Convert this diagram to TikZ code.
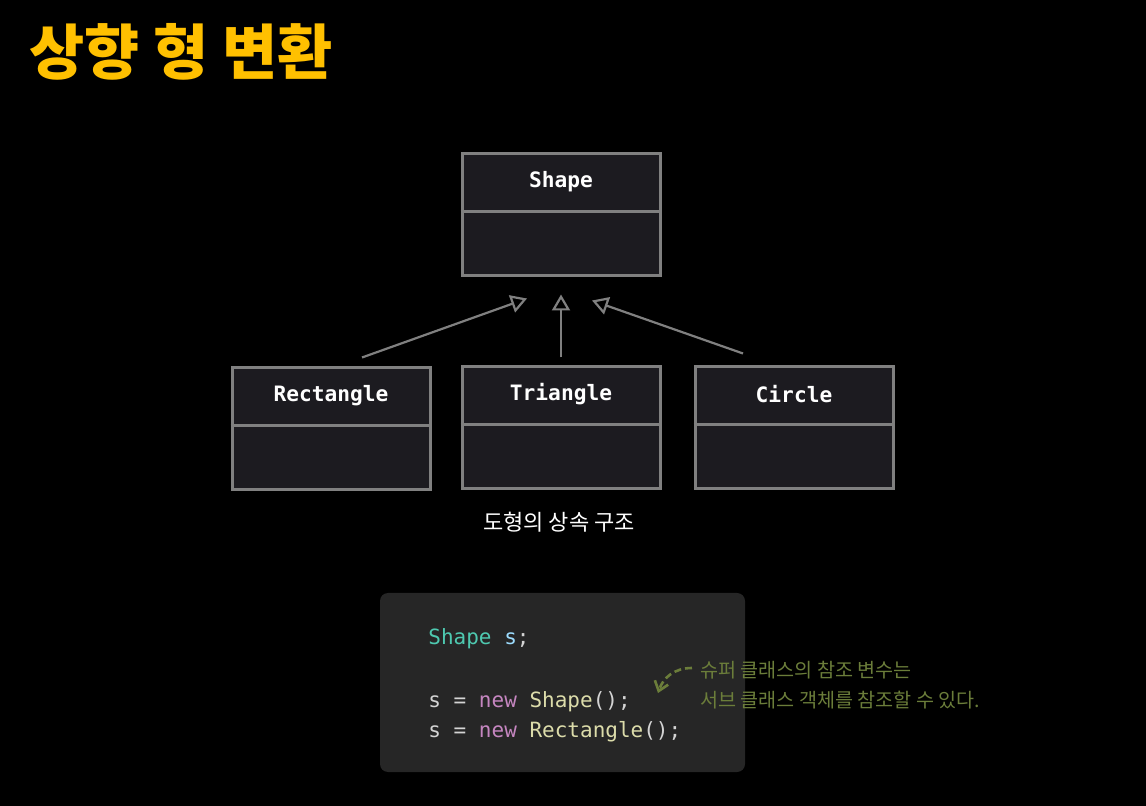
\documentclass[tikz,border=0pt]{standalone}
\usepackage{fontspec}
\setmonofont{DejaVu Sans Mono}
\newfontfamily\krfont{Noto Sans CJK KR}
\definecolor{ucTitle}{HTML}{FFC000}
\definecolor{ucBox}{HTML}{1C1B20}
\definecolor{ucEdge}{HTML}{808080}
\definecolor{ucCode}{HTML}{262626}
\definecolor{ucType}{HTML}{4EC9B0}
\definecolor{ucVar}{HTML}{9CDCFE}
\definecolor{ucKey}{HTML}{C586C0}
\definecolor{ucFunc}{HTML}{DCDCAA}
\definecolor{ucText}{HTML}{D4D4D4}
\definecolor{ucNote}{HTML}{6B7D3A}
\usetikzlibrary{calc,positioning,arrows.meta}

\begin{document}
\begin{tikzpicture}[x=0.5pt,y=-0.5pt,
    umlbox/.style={draw=ucEdge, line width=1.5pt, fill=ucBox,
      minimum width=99pt, minimum height=61pt, inner sep=0pt},
    umlname/.style={text=white, font=\ttfamily\bfseries\fontsize{10.6}{12}\selectfont},
    inherit/.style={draw=ucEdge, line width=1.1pt,
      -{Triangle[open, length=8pt, width=9pt]}},
    codeline/.style={anchor=base west, inner sep=0pt,
      font=\ttfamily\fontsize{10.5}{12}\selectfont, text=ucText}]
  \fill[black] (0,0) rectangle (1146,806);
  \useasboundingbox (0,0) rectangle (1146,806);

  % title
  \node[anchor=base west, inner sep=0pt, text=ucTitle,
    font=\krfont\bfseries\fontsize{30}{33}\selectfont] (title) at (29,75) {상향 형 변환};

  % class boxes
  \node[umlbox] (shape) at (561,215) {};
  \node[umlbox] (rect) at (331,429) {};
  \node[umlbox] (tri) at (561,428) {};
  \node[umlbox] (circ) at (794,428) {};
  \foreach \b/\t in {shape/Shape, rect/Rectangle, tri/Triangle, circ/Circle} {
    \draw[ucEdge, line width=1.5pt] ($(\b.north west)!0.47!(\b.south west)$)
      -- ($(\b.north east)!0.47!(\b.south east)$);
    \node[umlname] at ($(\b.north)+(0,29)$) {\t};
  }

  % inheritance arrows
  \draw[inherit] ($(rect.north)+(31,-9)$) -- ($(shape.south)+(-34,21)$);
  \draw[inherit] ($(tri.north)+(0,-8)$) -- ($(shape.south)+(0,17)$);
  \draw[inherit] ($(circ.north)+(-51,-12)$) -- ($(shape.south)+(31,23)$);

  \node[text=white, font=\krfont\fontsize{11}{13}\selectfont] (caption) at (559,522) {도형의 상속 구조};

  % code sample
  \node[fill=ucCode, rounded corners=4pt, minimum width=182.5pt,
    minimum height=89.5pt, inner sep=0pt] (code) at (562.5,682.5) {};
  \node[codeline] (line1) at (428,645) {\color{ucType}Shape \color{ucVar}s\color{ucText};};
  \node[codeline] (line2) at (428,707) {s = \color{ucKey}new \color{ucFunc}Shape\color{ucText}();};
  \node[codeline] (line3) at (428,737) {s = \color{ucKey}new \color{ucFunc}Rectangle\color{ucText}();};

  % note
  \node[anchor=base west, inner sep=0pt, text=ucNote, align=left,
    font=\krfont\fontsize{9.8}{15}\selectfont] (note) at (700,707)
    {슈퍼 클래스의 참조 변수는\\서브 클래스 객체를 참조할 수 있다.};
  \coordinate (hintA) at (692,668);
  \coordinate (hintB) at (658,693);
  \draw[ucNote, line width=1.3pt, dash pattern=on 3.5pt off 2pt,
    -{Straight Barb[length=4.5pt, width=7pt]}]
    (hintA) .. controls (674,668) and (663,678) .. (hintB);
\end{tikzpicture}
\end{document}
